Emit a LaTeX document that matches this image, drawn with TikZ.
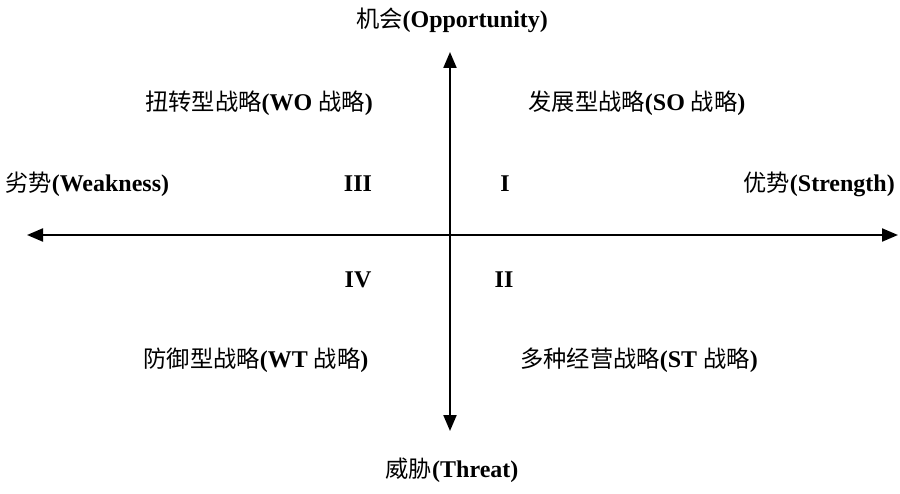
\documentclass[tikz,border=0pt]{standalone}
\usepackage{fontspec}
\setmainfont{Liberation Serif}
\newfontfamily\cjk{Noto Sans CJK SC}[Scale=0.97]
\usetikzlibrary{arrows.meta}
\newcommand{\zh}[1]{{\cjk\mdseries #1}}
\tikzset{
  lbl/.style={font=\fontsize{24}{26}\selectfont\bfseries, inner sep=0pt, text=black},
  quadnum/.style={lbl},
  axis/.style={{Triangle[length=16pt, width=13pt]}-{Triangle[length=16pt, width=13pt]}, line width=2.2pt},
}

\begin{document}
\begin{tikzpicture}[x=1pt, y=-1pt]
\useasboundingbox (0,0) rectangle (900,494);

% Axis ends
\coordinate (west)  at (27,235);
\coordinate (east)  at (898,235);
\coordinate (north) at (450,52);
\coordinate (south) at (450,431);

% Axis labels
\node[lbl] (opp) at (452,20) {\zh{机会}(Opportunity)};
\node[lbl] (thr) at (452,470) {\zh{威胁}(Threat)};
\node[lbl, anchor=west] (weak) at (5,184) {\zh{劣势}(Weakness)};
\node[lbl, anchor=east] (str) at (895,184) {\zh{优势}(Strength)};

% Quadrant numbers
\node[quadnum] (q3) at (358,184) {III};
\node[quadnum] (q1) at (505,184) {I};
\node[quadnum] (q4) at (358,280) {IV};
\node[quadnum] (q2) at (504,280) {II};

% Strategies
\node[lbl] (wo) at (259,103) {\zh{扭转型战略}(WO \zh{战略})};
\node[lbl] (so) at (637,103) {\zh{发展型战略}(SO \zh{战略})};
\node[lbl] (wt) at (256,360) {\zh{防御型战略}(WT \zh{战略})};
\node[lbl] (st) at (639,360) {\zh{多种经营战略}(ST \zh{战略})};

% Axes
\draw[axis] (west) -- (east);
\draw[axis] (south) -- (north);

\end{tikzpicture}
\end{document}
